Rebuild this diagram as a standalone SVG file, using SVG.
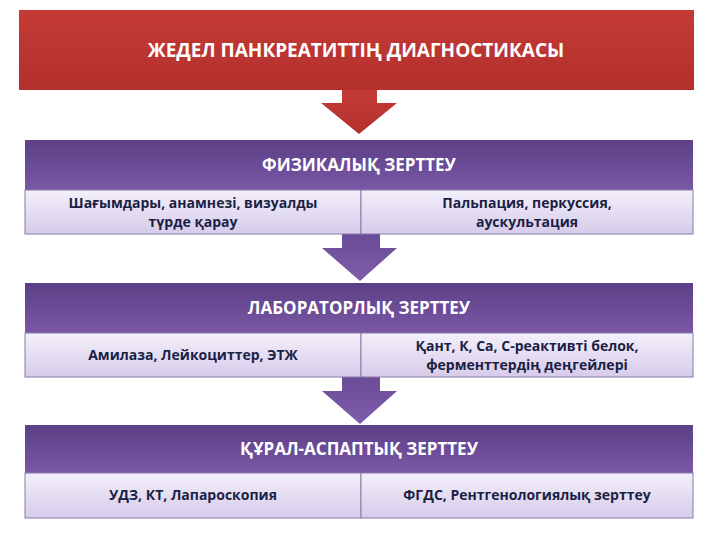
<svg xmlns="http://www.w3.org/2000/svg" width="720" height="540" viewBox="0 0 720 540">
<defs>
<linearGradient id="red" x1="0" y1="0" x2="0" y2="1"><stop offset="0" stop-color="#c43a36"/><stop offset="1" stop-color="#b3302d"/></linearGradient>
<linearGradient id="pur" x1="0" y1="0" x2="0" y2="1"><stop offset="0" stop-color="#5c3f86"/><stop offset="1" stop-color="#7a58a6"/></linearGradient>
<linearGradient id="lav" x1="0" y1="0" x2="0" y2="1"><stop offset="0" stop-color="#f4f0fa"/><stop offset="1" stop-color="#d6cbea"/></linearGradient>
<linearGradient id="parr" x1="0" y1="0" x2="0" y2="1"><stop offset="0" stop-color="#6b4c98"/><stop offset="1" stop-color="#7e5cab"/></linearGradient>
<style>
text{font-family:"Open Sans","Liberation Sans",sans-serif;font-weight:bold;text-anchor:middle}
.h{fill:#fff;font-size:17px}
.c{fill:#1b1f45;font-size:14px}
.cell{fill:url(#lav);stroke:#8a7aa8;stroke-width:1}
.hdr{fill:url(#pur)}
</style>
</defs>
<g id="connectors">
<polygon points="342,90 377,90 377,103 397,103 359,134 321,103 342,103" fill="url(#red)"/>
<polygon points="342,234 380,234 380,248 397,248 360,281 322,248 342,248" fill="url(#parr)"/>
<polygon points="342,377 380,377 380,391 397,391 360,424 322,391 342,391" fill="url(#parr)"/>
</g>
<g id="title">
<rect x="19" y="10" width="675" height="80" fill="url(#red)"/>
<text x="356" y="57" class="h" style="font-size:19px">ЖЕДЕЛ ПАНКРЕАТИТТІҢ ДИАГНОСТИКАСЫ</text>
</g>
<g id="physical">
<rect x="25" y="140" width="668" height="50" class="hdr"/>
<text x="359" y="171" class="h">ФИЗИКАЛЫҚ ЗЕРТТЕУ</text>
<rect x="25" y="190" width="336" height="44" class="cell"/>
<rect x="361" y="190" width="332" height="44" class="cell"/>
<text x="193" y="208" class="c">Шағымдары, анамнезі, визуалды</text>
<text x="193" y="227" class="c">түрде қарау</text>
<text x="527" y="208" class="c">Пальпация, перкуссия,</text>
<text x="527" y="227" class="c">аускультация</text>
</g>
<g id="lab">
<rect x="25" y="283" width="668" height="50" class="hdr"/>
<text x="359" y="314" class="h">ЛАБОРАТОРЛЫҚ ЗЕРТТЕУ</text>
<rect x="25" y="333" width="336" height="44" class="cell"/>
<rect x="361" y="333" width="332" height="44" class="cell"/>
<text x="193" y="360" class="c">Амилаза, Лейкоциттер, ЭТЖ</text>
<text x="527" y="351" class="c">Қант, К, Са, С-реактивті белок,</text>
<text x="527" y="370" class="c">ферменттердің деңгейлері</text>
</g>
<g id="instrumental">
<rect x="25" y="425" width="668" height="48" class="hdr"/>
<text x="359" y="455" class="h">ҚҰРАЛ-АСПАПТЫҚ ЗЕРТТЕУ</text>
<rect x="25" y="473" width="336" height="45" class="cell"/>
<rect x="361" y="473" width="332" height="45" class="cell"/>
<text x="193" y="500" class="c">УДЗ, КТ, Лапароскопия</text>
<text x="527" y="500" class="c">ФГДС, Рентгенологиялық зерттеу</text>
</g>
</svg>
